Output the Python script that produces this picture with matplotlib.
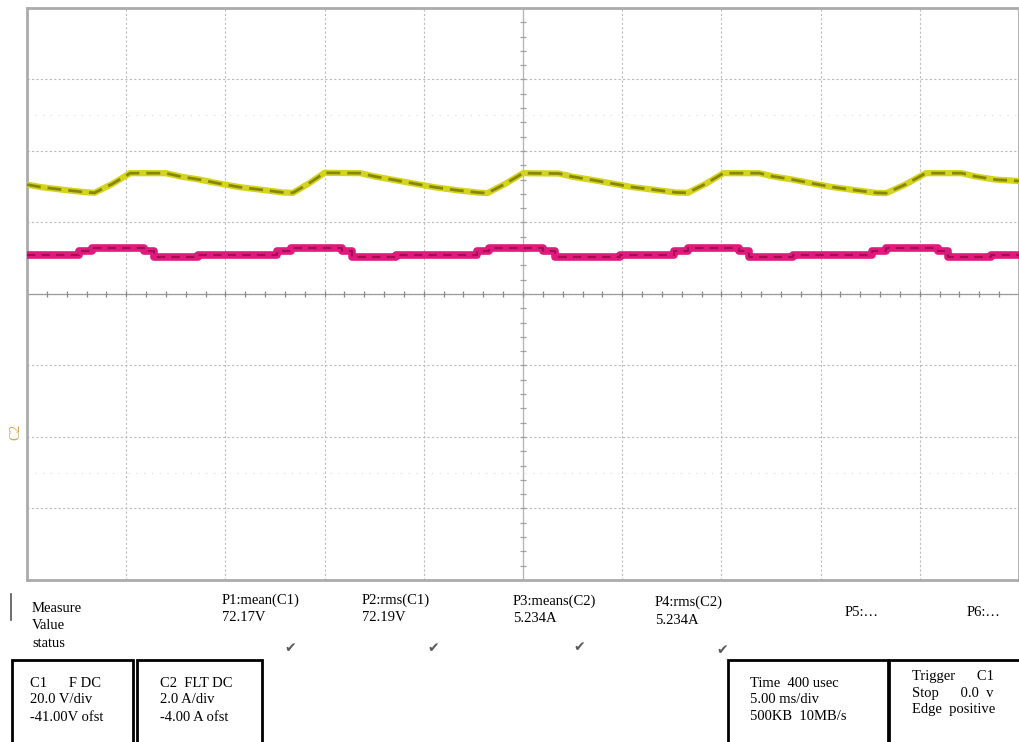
import matplotlib
matplotlib.use('Agg')
import matplotlib.pyplot as plt
from matplotlib.patches import Rectangle
import numpy as np

# C1 voltage trace (ms, V)
t_c1 = [0.0, 0.7, 1.9, 2.9, 3.4, 4.3, 5.2, 7.0, 7.7, 8.7, 9.6, 10.7, 11.9, 12.9,
        13.4, 14.2, 15.0, 16.8, 17.5, 18.5, 19.4, 20.5, 21.7, 22.7,
        23.2, 24.1, 25.0, 26.8, 27.5, 28.5, 29.4, 30.5, 31.7, 32.7,
        33.3, 34.2, 35.1, 36.9, 37.6, 38.6, 39.5, 40.6, 41.8, 42.8,
        43.3, 44.3, 45.3, 47.1, 47.8, 48.8, 50.0]
v_c1 = [71.6, 70.9, 70.1, 69.5, 69.3, 71.8, 74.8, 74.8, 73.9, 73.0, 72.0, 70.9, 70.1, 69.4,
        69.3, 71.9, 74.9, 74.8, 73.9, 72.9, 72.0, 70.9, 70.0, 69.4,
        69.2, 71.8, 74.8, 74.7, 73.8, 72.9, 72.0, 70.9, 70.1, 69.4,
        69.3, 71.8, 74.8, 74.8, 73.9, 73.0, 72.0, 70.9, 70.0, 69.3,
        69.2, 71.7, 74.8, 74.8, 73.9, 73.0, 72.6]

# C2 current trace (ms, A), stepped
t_c2 = [0.0, 2.6, 3.3, 5.9, 6.4, 8.6,
        12.6, 13.3, 15.9, 16.4, 18.6,
        22.7, 23.3, 26.0, 26.6, 29.9,
        32.6, 33.3, 35.9, 36.4, 38.6,
        42.6, 43.3, 45.9, 46.4, 48.6, 50.0]
i_c2 = [5.09, 5.20, 5.29, 5.20, 5.04, 5.09,
        5.20, 5.29, 5.20, 5.04, 5.09,
        5.20, 5.29, 5.20, 5.04, 5.09,
        5.20, 5.29, 5.20, 5.04, 5.09,
        5.20, 5.29, 5.20, 5.04, 5.09, 5.09]

meas_names = ["P1:mean(C1)", "P2:rms(C1)", "P3:means(C2)", "P4:rms(C2)"]
meas_values = ["72.17V", "72.19V", "5.234A", "5.234A"]
box_texts = [["C1      F DC", "20.0 V/div", "-41.00V ofst"],
             ["C2  FLT DC", "2.0 A/div", "-4.00 A ofst"],
             ["Time  400 usec", "5.00 ms/div", "500KB  10MB/s"],
             ["Trigger      C1", "Stop      0.0  v", "Edge  positive"]]

W, H = 1020, 742


def fx(x):
    return x / W


def fy(y):
    return 1 - y / H


fig = plt.figure(figsize=(10.2, 7.42), dpi=100)
fig.patch.set_facecolor('white')

# scope screen: 10 x 8 divisions, 5 ms/div, C1 20 V/div (ofst -41 V), C2 2 A/div (ofst -4 A)
ax = fig.add_axes([fx(27), fy(580), (1019 - 27) / W, (580 - 8) / H])
ax.set_xlim(0, 50)
ax.set_ylim(41 - 80, 41 + 80)
ax.set_xticks(np.arange(0, 51, 5))
ax.set_yticks(np.arange(-39, 122, 20))
ax.tick_params(length=0, labelleft=False, labelbottom=False)
ax.grid(color='#bcbcbc', ls=(0, (2, 2)), lw=0.8)
ax.set_axisbelow(True)
for s in ax.spines.values():
    s.set_color('#ababab')
    s.set_linewidth(2)

# faint half rows
for yy in [91, -9]:
    ax.axhline(yy, color='#dedede', lw=0.8, ls=(0, (1, 6)), zorder=0)

# centre cross with fine ticks
ax.axhline(41, color='#9a9a9a', lw=0.9, zorder=1)
ax.axvline(25, color='#b4b4b4', lw=0.9, zorder=1)
hx = np.arange(0, 50.01, 1)
ax.plot(hx, np.full_like(hx, 41), ls='none', marker='|', ms=5, mew=0.9, color='#8a8a8a', zorder=1)
vy = np.arange(-39, 121.01, 4)
ax.plot(np.full_like(vy, 25), vy, ls='none', marker='_', ms=5, mew=0.9, color='#a0a0a0', zorder=1)

# C1 trace
ax.plot(t_c1, v_c1, color='#d4d41c', lw=4.5, solid_capstyle='butt', zorder=3)
ax.plot(t_c1, v_c1, color='#86860a', lw=2.0, ls=(0, (5, 2.5)), zorder=4)

# C2 trace on its own scale
ax2 = ax.twinx()
ax2.set_ylim(4 - 8, 4 + 8)
ax2.tick_params(length=0, labelright=False)
for s in ax2.spines.values():
    s.set_visible(False)
ax2.plot(t_c2, i_c2, drawstyle='steps-post', color='#e01a7c', lw=5.5, zorder=3)
ax2.plot(t_c2, i_c2, drawstyle='steps-post', color='#a50d52', lw=1.5, ls=(0, (4, 3)), zorder=4)

serif = ['Liberation Serif', 'DejaVu Serif']
fs = 10.5

# C2 ground marker
fig.text(fx(16), fy(432), "C2", rotation=90, color='#d0a850', fontsize=10,
         ha='center', va='center', family=serif)

# measurement panel
for lab, y in zip(["Measure", "Value", "status"], [612, 629, 647]):
    fig.text(fx(32), fy(y), lab, fontsize=fs, family=serif, va='baseline')
fig.add_artist(plt.Line2D([fx(11), fx(11)], [fy(594), fy(620)], color='#555555', lw=1.2))

meas_x = [222, 362, 513, 655]
name_y = [604, 604, 605, 606]
val_y = [621, 621, 622, 624]
check_x = [290, 433, 579, 722]
check_y = [648, 648, 647, 650]
for k in range(4):
    fig.text(fx(meas_x[k]), fy(name_y[k]), meas_names[k], fontsize=fs, family=serif, va='baseline')
    fig.text(fx(meas_x[k]), fy(val_y[k]), meas_values[k], fontsize=fs, family=serif, va='baseline')
    fig.text(fx(check_x[k]), fy(check_y[k]), "\u2714", fontsize=10, color='#5a5a5a',
             ha='center', va='center', family='DejaVu Sans')

fig.text(fx(845), fy(616), "P5:\u2026", fontsize=fs, family=serif, va='baseline')
fig.text(fx(967), fy(616), "P6:\u2026", fontsize=fs, family=serif, va='baseline')

# channel / timebase / trigger boxes
box_x = [(12, 133), (137, 262), (728, 888), (889, 1024)]
text_x = [30, 160, 750, 912]
text_y = [[687, 703, 721], [687, 703, 721], [687, 703, 720], [680, 697, 713]]
for k in range(4):
    x0, x1 = box_x[k]
    fig.add_artist(Rectangle((fx(x0), fy(760)), (x1 - x0) / W, (760 - 660) / H,
                             transform=fig.transFigure, fill=False, ec='black', lw=2))
    for line, yy in zip(box_texts[k], text_y[k]):
        fig.text(fx(text_x[k]), fy(yy), line, fontsize=fs, family=serif, va='baseline')

fig.savefig('out.png', dpi=100)
